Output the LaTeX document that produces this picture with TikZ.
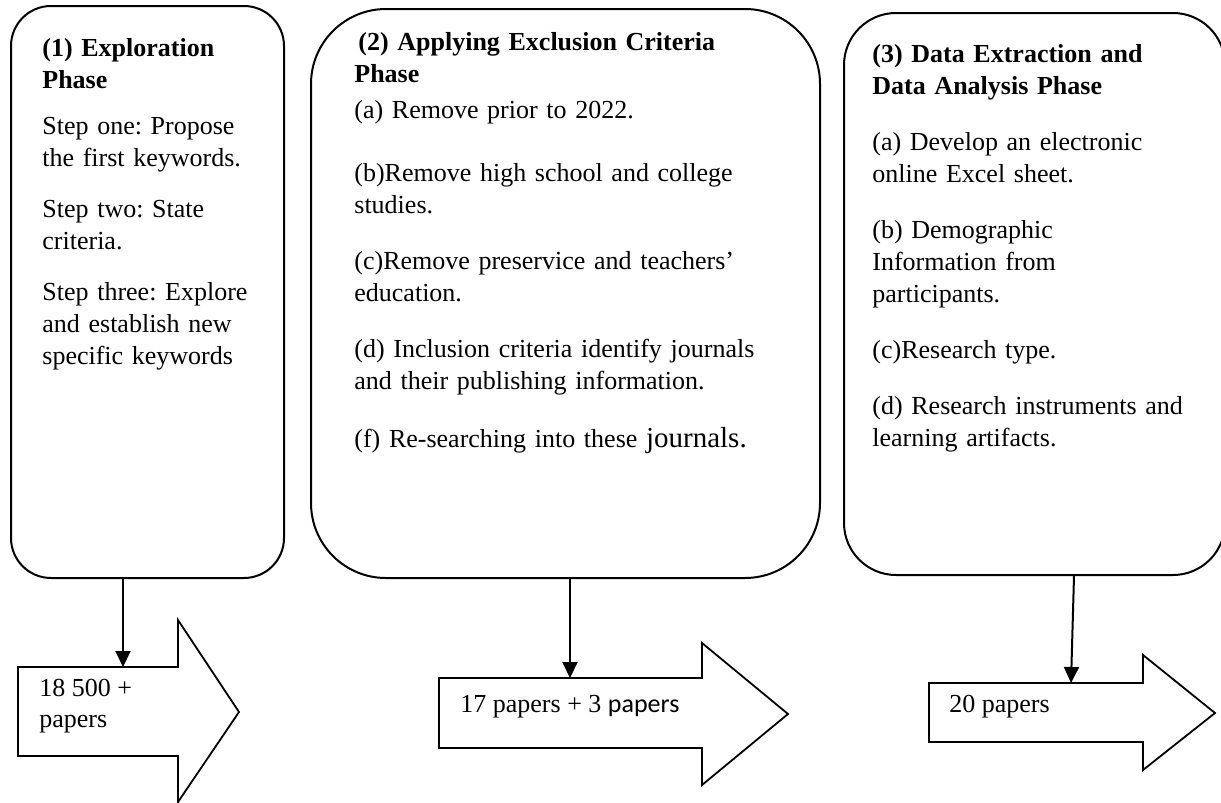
\documentclass[tikz,border=0pt]{standalone}
\usepackage{fontspec}
\setmainfont{Liberation Serif}
\newfontfamily\carlito{Carlito}
\usetikzlibrary{arrows.meta}
\tikzstyle{every node}=[inner sep=0pt,anchor=north west,font=\fontsize{13}{16}\selectfont\frenchspacing]
\tikzstyle{phase}=[draw=black,line width=1pt]
\tikzstyle{steps}=[align=left,text width=240pt]
\tikzstyle{bigarrow}=[draw=black,line width=0.9pt,fill=white]
\tikzstyle{link}=[line width=1pt,-{Triangle[length=8pt,width=7.5pt]}]

\begin{document}
\begin{tikzpicture}[x=0.5pt,y=-0.5pt]
  \useasboundingbox (0,0) rectangle (1221,803);

  \node [phase,rounded corners=20pt,minimum width=136.5pt,minimum height=286pt] (box1) at (10,5) {};
  \node [phase,rounded corners=37.5pt,minimum width=254.5pt,minimum height=284.5pt] (box2) at (310,8) {};
  \node [phase,rounded corners=26pt,minimum width=190.5pt,minimum height=281pt] (box3) at (843,12) {};

  \node [steps] (text1) at (42,38) {%
    \textbf{(1) Exploration\\Phase}\\[7pt]
    Step one: Propose\\the first keywords.\\[9.5pt]
    Step two: State\\criteria.\\[9.5pt]
    Step three: Explore\\and establish new\\specific keywords};
  \node [steps] (text2) at (354,32) {%
    \textbf{\hspace{2pt}(2) Applying Exclusion Criteria\\Phase}\\[2pt]
    (a) Remove prior to 2022.\\[15.5pt]
    (b)Remove high school and college\\studies.\\[12pt]
    (c)Remove preservice and teachers'\\education.\\[12pt]
    (d) Inclusion criteria identify journals\\and their publishing information.\\[13pt]
    (f) Re-searching into these {\fontsize{14.5}{16}\selectfont journals.}};
  \node [steps] (text3) at (872,44) {%
    \textbf{(3) Data Extraction and\\Data Analysis Phase}\\[12pt]
    (a) Develop an electronic\\online Excel sheet.\\[12pt]
    (b) Demographic\\Information from\\participants.\\[12pt]
    (c)Research type.\\[12pt]
    (d) Research instruments and\\learning artifacts.};

  \draw [bigarrow] (18,667) -- (178,667) -- (178,620) -- (239,712) -- (178,802) -- (178,756) -- (18,756) -- cycle;
  \draw [bigarrow] (439,678) -- (702,678) -- (702,643) -- (788,714) -- (702,785) -- (702,748) -- (439,748) -- cycle;
  \draw [bigarrow] (929,683) -- (1143,683) -- (1143,655) -- (1215,713) -- (1143,770) -- (1143,742) -- (929,742) -- cycle;

  \node [align=left,font=\fontsize{13}{15.5}\selectfont] (count1) at (39,679) {18 500 +\\papers};
  \node (count2) at (460,695) {17 papers + 3 {\carlito papers}};
  \node (count3) at (949,695) {20 papers};

  \coordinate (in1) at (123,667);
  \coordinate (in2) at (570,678);
  \coordinate (in3) at (1071,683);
  \draw [link] ([xshift=56.5pt]box1.south west) -- (in1);
  \draw [link] ([xshift=130pt]box2.south west) -- (in2);
  \draw [link] ([xshift=115.5pt]box3.south west) -- (in3);
\end{tikzpicture}
\end{document}
